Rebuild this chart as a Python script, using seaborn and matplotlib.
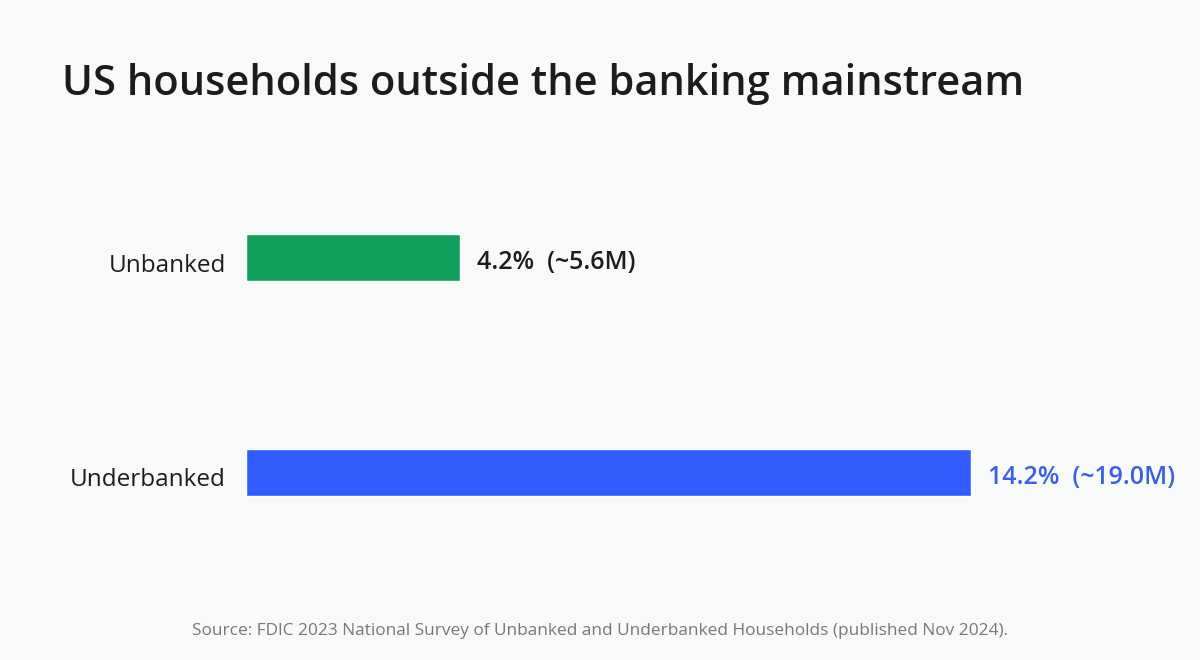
import pandas as pd
import seaborn as sns
import matplotlib.pyplot as plt
from matplotlib.transforms import ScaledTranslation

categories = ["Unbanked", "Underbanked"]
shares = [4.2, 14.2]
households = ["~5.6M", "~19.0M"]
bar_colors = ["#10a05b", "#335cff"]
label_colors = ["#1c1c1c", "#3a5fe6"]

df = pd.DataFrame({"Group": categories, "Share": shares})

sns.set_theme(style="white")
plt.rcParams["font.family"] = ["Open Sans", "DejaVu Sans"]

bg = "#f8faf9"
fig = plt.figure(figsize=(12, 6.6), dpi=100, facecolor=bg)
ax = fig.add_axes([246 / 1200, 1 - 580 / 660, 854 / 1200, 430 / 660])
ax.set_facecolor(bg)

sns.barplot(data=df, x="Share", y="Group", hue="Group", palette=bar_colors,
            width=0.2186, legend=False, saturation=1, ax=ax)

ax.set_xlim(0, 16.73)
ax.set_ylim(1.5, -0.5)
for s in ax.spines.values():
    s.set_visible(False)
ax.set_xticks([])
ax.set_xlabel("")
ax.set_ylabel("")
ax.tick_params(axis="y", length=0, pad=14.5, labelsize=17.5, labelcolor="#1c1c1c")

# nudge category labels down a little, like the reference
shift = ScaledTranslation(0, -5 / 100, fig.dpi_scale_trans)
for lab in ax.get_yticklabels():
    lab.set_transform(lab.get_transform() + shift)

for i, (v, h) in enumerate(zip(shares, households)):
    ax.annotate(f"{v:.1f}%  ({h})", xy=(v, i), xytext=(17, -5),
                textcoords="offset pixels", va="center", ha="left",
                fontsize=18, fontweight="semibold", color=label_colors[i])

fig.text(62 / 1200, 1 - 95 / 660, "US households outside the banking mainstream",
         fontsize=30, fontweight="semibold", color="#1c1c1c", ha="left", va="baseline")
fig.text(0.5, 1 - 631 / 660,
         "Source: FDIC 2023 National Survey of Unbanked and Underbanked Households (published Nov 2024).",
         fontsize=12.4, color="#777777", ha="center", va="center")

fig.savefig("out.png", dpi=100, facecolor=bg)
